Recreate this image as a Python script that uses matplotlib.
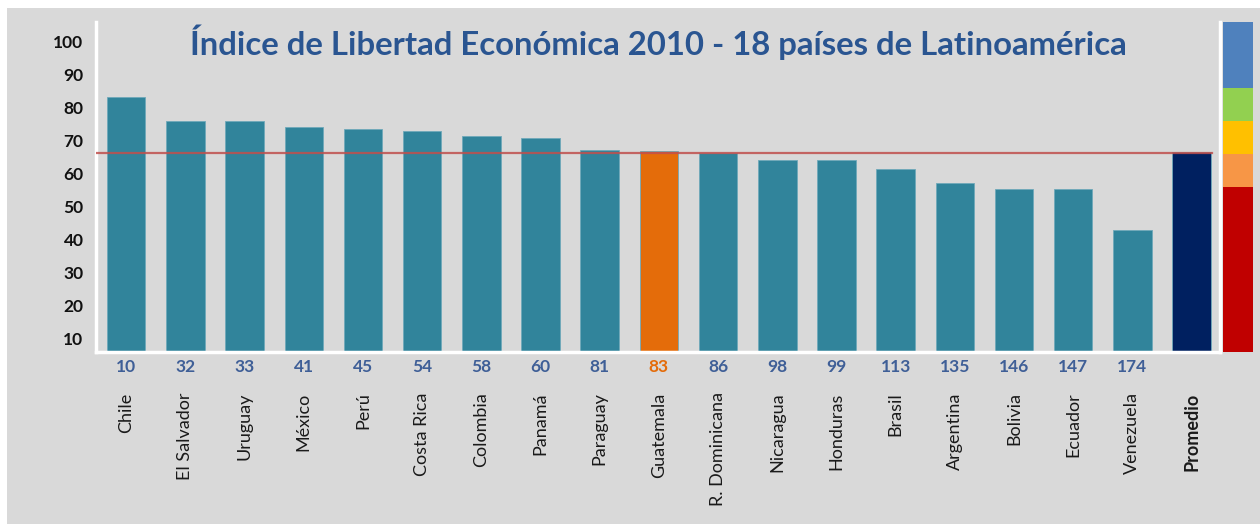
import matplotlib.pyplot as plt
from matplotlib.patches import Rectangle
from matplotlib.transforms import blended_transform_factory
import numpy as np

plt.rcParams['font.family'] = ['Lato', 'DejaVu Sans']

BG     = '#D9D9D9'
TEAL   = '#31849B'
ORANGE = '#E46C0A'
NAVY   = '#002060'
RANKC  = '#3F5F97'
TITLEC = '#2A5591'

# data
countries = ['Chile', 'El Salvador', 'Uruguay', 'México', 'Perú', 'Costa Rica',
             'Colombia', 'Panamá', 'Paraguay', 'Guatemala', 'R. Dominicana',
             'Nicaragua', 'Honduras', 'Brasil', 'Argentina', 'Bolivia',
             'Ecuador', 'Venezuela', 'Promedio']
scores = [77.2, 69.9, 70.0, 68.3, 67.6, 66.9, 65.5, 64.8, 61.3, 61.0,
          60.3, 58.3, 58.3, 55.6, 51.2, 49.4, 49.3, 37.1, 60.7]
ranks = ['10', '32', '33', '41', '45', '54', '58', '60', '81', '83',
         '86', '98', '99', '113', '135', '146', '147', '174', '']
avg_line = 60.3

band_edges = [0, 50, 60, 70, 80, 100]
band_colors = ['#C00000', '#F79646', '#FFC000', '#92D050', '#4F81BD']

ytick_labels = ['10', '20', '30', '40', '50', '60', '70', '80', '90', '100']

fig = plt.figure(figsize=(12.6, 5.24), dpi=100)
fig.patch.set_facecolor('white')
fig.patches.append(Rectangle((7/1260, 0), 1, 1 - 8/524, transform=fig.transFigure,
                             facecolor=BG, edgecolor='none', zorder=-5))

ax = fig.add_axes([96/1260, 1 - 352/524, (1220 - 96)/1260, (352 - 22)/524])
ax.set_facecolor(BG)

x = np.arange(len(countries))
colors = [TEAL] * len(countries)
colors[9] = ORANGE
colors[-1] = NAVY
ax.bar(x, scores, width=0.65, color=colors, edgecolor='#6FA9BA', linewidth=0.6, zorder=2)
ax.axhline(avg_line, color='#C0504D', lw=1.6, alpha=0.85, xmax=0.993, zorder=3)

ax.set_xlim(-0.51, 18.48)
ax.set_ylim(0, 100)
ax.spines['top'].set_visible(False)
for s in ['left', 'bottom', 'right']:
    ax.spines[s].set_color('white')
    ax.spines[s].set_linewidth(2.5)

# y labels sit a little below their gridline values in the source
ax.set_yticks(np.arange(10, 101, 10) - 6)
ax.set_yticklabels(ytick_labels, fontsize=12.5, fontweight='bold', color='#111111')
ax.tick_params(axis='y', length=0, pad=9)

ax.set_xticks(x)
ax.set_xticklabels(countries, rotation=90, fontsize=13, color='#1a1a1a', va='top')
ax.get_xticklabels()[-1].set_fontweight('bold')
ax.tick_params(axis='x', length=0, pad=29)

tr = blended_transform_factory(ax.transData, ax.transAxes)
for i, r in enumerate(ranks):
    ax.text(i, -0.045, r, transform=tr, ha='center', va='center', fontsize=12.5,
            fontweight='bold', color=ORANGE if i == 9 else RANKC)

ax.text(0.5, 0.94, 'Índice de Libertad Económica 2010 - 18 países de Latinoamérica',
        transform=ax.transAxes, ha='center', va='center', fontsize=23.7,
        fontweight='bold', color=TITLEC)

# colour scale strip
ax2 = fig.add_axes([1223/1260, 1 - 352/524, 30/1260, (352 - 22)/524])
ax2.bar([0] * 5, np.diff(band_edges), bottom=band_edges[:-1], width=1,
        color=band_colors, edgecolor='none')
ax2.set_xlim(-0.5, 0.5)
ax2.set_ylim(0, 100)
ax2.axis('off')

fig.savefig('out.png', dpi=100, facecolor='white')
